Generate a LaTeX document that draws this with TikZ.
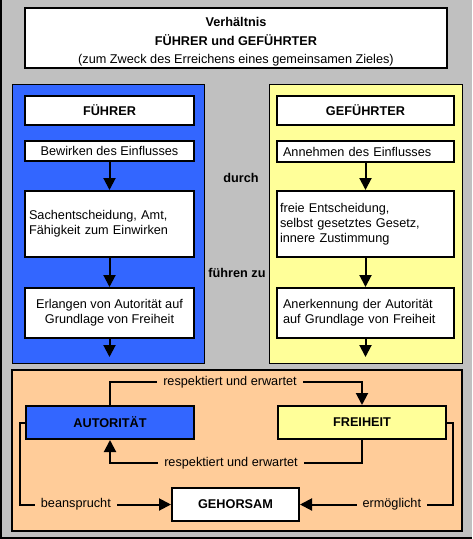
\documentclass[tikz,border=0pt]{standalone}
\usepackage{fontspec}
\setmainfont{Liberation Sans}
\usetikzlibrary{arrows.meta, positioning}
\definecolor{bggray}{HTML}{C0C0C0}
\definecolor{fblue}{HTML}{3366FF}
\definecolor{gyellow}{HTML}{FFFF99}
\definecolor{rorange}{HTML}{FFCC99}

\begin{document}
\begin{tikzpicture}[
  x=1pt, y=-1pt,
  font=\fontsize{12.7}{15}\selectfont,
  box/.style={rectangle, draw, line width=2pt, fill=white, inner sep=0pt, align=center},
  fbox/.style={box, minimum width=169pt},
  gbox/.style={box, minimum width=177pt, text width=165pt, align=left},
  head/.style={font=\fontsize{12.7}{15}\selectfont\bfseries},
  lbl/.style={fill=rorange, inner xsep=6pt, inner ysep=1pt},
  arr/.style={draw, line width=2pt, -{Triangle[width=12pt,length=12pt]}}
  ]

% Background
\useasboundingbox (0,0) rectangle (472,539);
\fill[bggray] (0,0) rectangle (472,539);
\draw[line width=2pt] (1,0) -- (1,538) -- (472,538);

% Title
\draw[fill=white, line width=2pt] (25,8) rectangle (447,68);
\node[align=center, font=\fontsize{12.7}{18.5}\selectfont] (title) at (236,42)
  {{\bfseries Verhältnis}\\{\bfseries FÜHRER und GEFÜHRTER}\\(zum Zweck des Erreichens eines gemeinsamen Zieles)};

% Panels
\draw[fill=fblue, line width=1pt] (12,84) rectangle (204,363);
\draw[fill=gyellow, line width=1pt] (269,84) rectangle (462,363);
\draw[fill=rorange, line width=2pt] (12,370) rectangle (462,531);

% Left column
\node[fbox, minimum height=29pt, head] (fhead) at (109.5,110.5) {FÜHRER};
\node[fbox, minimum height=20pt] (fbew) at (109.5,151) {Bewirken des Einflusses};
\node[fbox, minimum height=66pt, text width=161pt, align=left] (fsach) at (109.5,224) {Sachentscheidung, Amt,\\Fähigkeit zum Einwirken};
\node[fbox, minimum height=50pt] (ferl) at (109.5,313) {Erlangen von Autorität auf\\Grundlage von Freiheit};
\coordinate (fend) at (109.5,357);

% Right column
\node[gbox, minimum height=29pt, head, align=center] (ghead) at (365.5,110.5) {GEFÜHRTER};
\node[gbox, minimum height=21pt] (gann) at (365.5,151.5) {Annehmen des Einflusses};
\node[gbox, minimum height=66pt, text width=171pt] (gfrei) at (365.5,224) {freie Entscheidung,\\selbst gesetztes Gesetz,\\innere Zustimmung};
\node[gbox, minimum height=50pt] (gane) at (365.5,313) {Anerkennung der Autorität\\auf Grundlage von Freiheit};
\coordinate (gend) at (365.5,357);

% Middle words
\node[head] (durch) at (241,178) {durch};
\node[head] (fuehren) at (237,273) {führen zu};

% Column arrows
\path[arr] (fbew) -- (fsach);
\path[arr] (fsach) -- (ferl);
\path[arr] (ferl) -- (fend);
\path[arr] (gann) -- (gfrei);
\path[arr] (gfrei) -- (gane);
\path[arr] (gane) -- (gend);

% Lower panel
\node[box, fill=fblue, minimum width=168pt, minimum height=33pt, head] (auto) at (110,422.5) {AUTORITÄT};
\node[box, fill=gyellow, minimum width=168pt, minimum height=33pt, head] (frei) at (362,422.5) {FREIHEIT};
\node[box, minimum width=127pt, minimum height=33pt, head] (geh) at (235.5,504.5) {GEHORSAM};

\path[arr] (auto.north) -- ++(0,-23) -| node[lbl, pos=0.238] {respektiert und erwartet} (frei.north);
\path[arr] (frei.south) -- ++(0,23) -| node[lbl, pos=0.26] {respektiert und erwartet} (auto.south);
\path[arr] (auto.west) -- ++(-5,0) |- node[lbl, pos=0.685] {beansprucht} (geh.west);
\path[arr] (frei.east) -- ++(6,0) |- node[lbl, pos=0.70] {ermöglicht} (geh.east);

\end{tikzpicture}
\end{document}
